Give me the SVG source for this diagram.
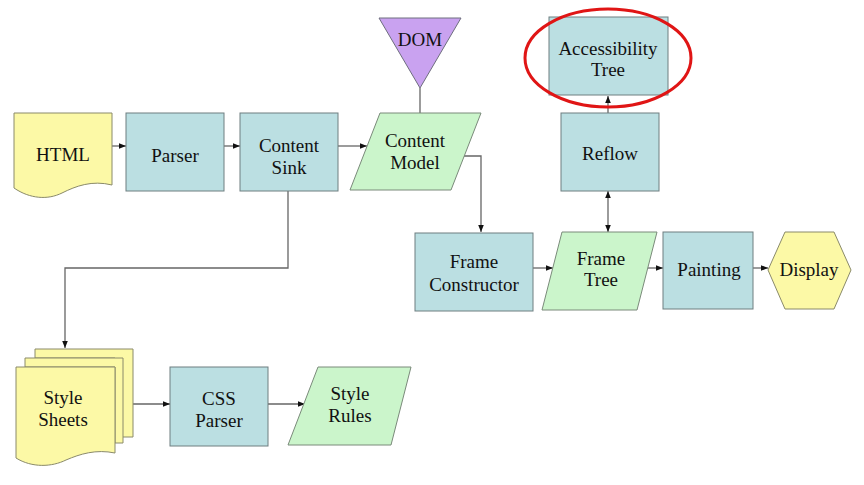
<svg xmlns="http://www.w3.org/2000/svg" width="864" height="485" viewBox="0 0 864 485">
<defs>
<style>
.box{fill:#bbdfe2;stroke:#6e7e80;stroke-width:1}
.doc{fill:#fcf9a6;stroke:#8a8a6a;stroke-width:1}
.data{fill:#cbf5cb;stroke:#7a8a7a;stroke-width:1}
.tri{fill:#c9a2f0;stroke:#6e6e7e;stroke-width:1}
.t{font-family:'Liberation Serif','DejaVu Serif','Times New Roman',Times,serif;font-size:19px;fill:#111;text-anchor:middle}
.c{fill:none;stroke:#666;stroke-width:1.3}
</style>
<marker id="ah" viewBox="0 0 10 10" refX="10" refY="5" markerWidth="7" markerHeight="7" markerUnits="userSpaceOnUse" orient="auto-start-reverse">
<path d="M0,1 L10,5 L0,9 Z" fill="#111"/>
</marker>
</defs>
<rect width="864" height="485" fill="#fff"/>

<g id="connectors">
<line class="c" x1="112" y1="146" x2="126" y2="146" marker-end="url(#ah)"/>
<line class="c" x1="224" y1="146" x2="240" y2="146" marker-end="url(#ah)"/>
<line class="c" x1="338" y1="146" x2="367" y2="146" marker-end="url(#ah)"/>
<line class="c" x1="420" y1="88" x2="420" y2="113"/>
<polyline class="c" points="464,156 481,156 481,232" marker-end="url(#ah)"/>
<polyline class="c" points="288,191 288,268 65,268 65,348" marker-end="url(#ah)"/>
<line class="c" x1="533" y1="268" x2="553" y2="268" marker-end="url(#ah)"/>
<line class="c" x1="647" y1="268" x2="663" y2="268" marker-end="url(#ah)"/>
<line class="c" x1="753" y1="268" x2="768" y2="268" marker-end="url(#ah)"/>
<line class="c" x1="608" y1="191" x2="608" y2="232" marker-start="url(#ah)" marker-end="url(#ah)"/>
<line class="c" x1="608" y1="113" x2="608" y2="96" marker-end="url(#ah)"/>
<line class="c" x1="133" y1="404" x2="170" y2="404" marker-end="url(#ah)"/>
<line class="c" x1="268" y1="404" x2="305" y2="404" marker-end="url(#ah)"/>
</g>

<g id="html">
<path class="doc" d="M14,113 H112 V185 C92,180 76,186 62,193 C48,200 30,199 14,188 Z"/>
<text class="t" x="63" y="161">HTML</text>
</g>
<g id="parser">
<rect class="box" x="126" y="113" width="98" height="78"/>
<text class="t" x="175" y="162">Parser</text>
</g>
<g id="content-sink">
<rect class="box" x="240" y="113" width="98" height="78"/>
<text class="t" x="289" y="152">Content</text>
<text class="t" x="289" y="174">Sink</text>
</g>
<g id="dom">
<polygon class="tri" points="379,18 461,18 420,88"/>
<text class="t" x="420" y="46">DOM</text>
</g>
<g id="content-model">
<polygon class="data" points="380,113 481,113 451,190 350,190"/>
<text class="t" x="415" y="147">Content</text>
<text class="t" x="415" y="169">Model</text>
</g>
<g id="accessibility-tree">
<rect class="box" x="549" y="17" width="119" height="78"/>
<text class="t" x="608" y="55">Accessibility</text>
<text class="t" x="608" y="76">Tree</text>
<ellipse cx="608" cy="58" rx="83" ry="49" fill="none" stroke="#e01515" stroke-width="3"/>
</g>
<g id="reflow">
<rect class="box" x="561" y="113" width="98" height="78"/>
<text class="t" x="610" y="160">Reflow</text>
</g>
<g id="frame-constructor">
<rect class="box" x="415" y="233" width="118" height="78"/>
<text class="t" x="474" y="268">Frame</text>
<text class="t" x="474" y="291">Constructor</text>
</g>
<g id="frame-tree">
<polygon class="data" points="562,232 657,232 637,310 542,310"/>
<text class="t" x="601" y="265">Frame</text>
<text class="t" x="601" y="286">Tree</text>
</g>
<g id="painting">
<rect class="box" x="663" y="232" width="90" height="77"/>
<text class="t" x="709" y="276">Painting</text>
</g>
<g id="display">
<polygon class="doc" points="768,270 785,232 834,232 851,270 834,309 785,309"/>
<text class="t" x="809" y="276">Display</text>
</g>
<g id="style-sheets">
<path class="doc" d="M35,349 H133 V437 H115 V358 H35 Z"/>
<path class="doc" d="M25,358 H123 V443 H115 V367 H25 Z"/>
<path class="doc" d="M16,367 H115 V453 C96,449 80,454 66,460 C52,467 32,468 16,458 Z"/>
<text class="t" x="63" y="404">Style</text>
<text class="t" x="63" y="426">Sheets</text>
</g>
<g id="css-parser">
<rect class="box" x="170" y="367" width="98" height="79"/>
<text class="t" x="219" y="405">CSS</text>
<text class="t" x="219" y="427">Parser</text>
</g>
<g id="style-rules">
<polygon class="data" points="318,367 411,367 391,445 288,445"/>
<text class="t" x="350" y="400">Style</text>
<text class="t" x="350" y="422">Rules</text>
</g>
</svg>
